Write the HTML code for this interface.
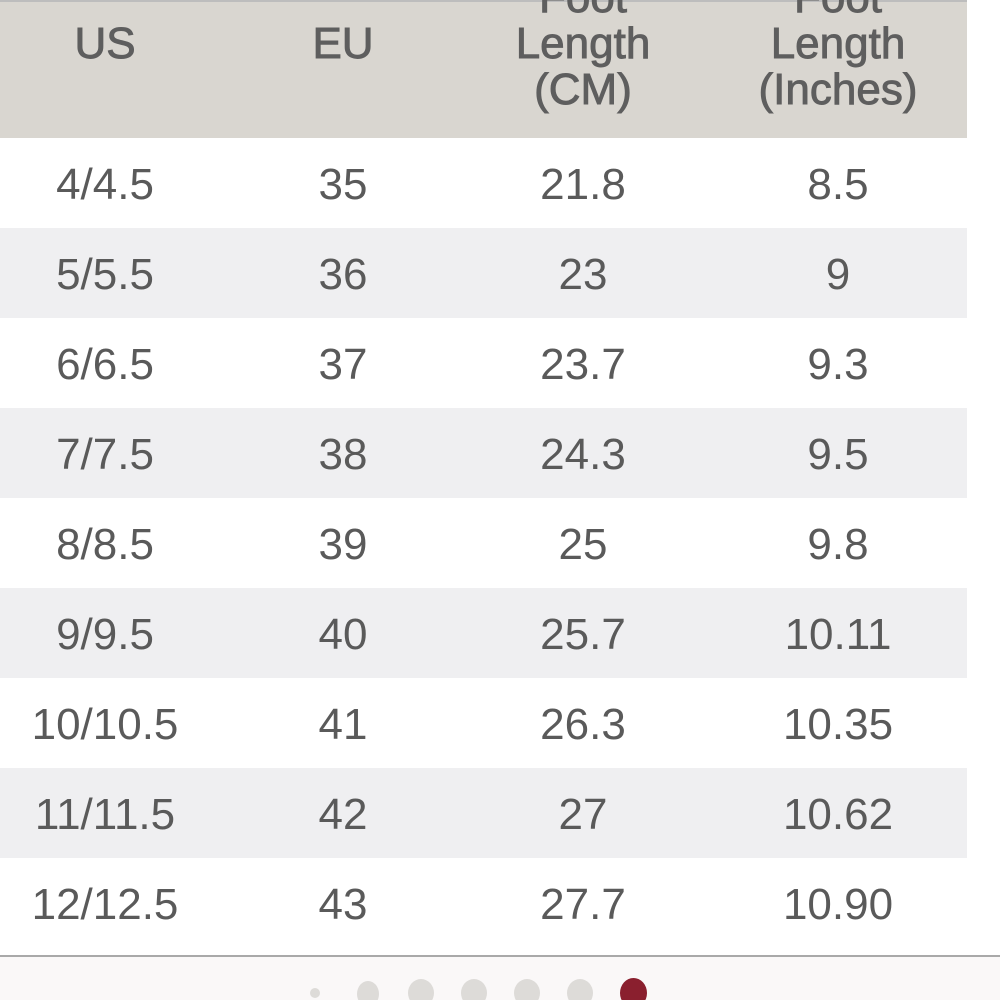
<!DOCTYPE html>
<html><head><style>
html,body{margin:0;width:1000px;height:1000px;overflow:hidden;background:#fff;font-family:"Liberation Sans",sans-serif;color:#5a5a5a;position:relative}
.hdr{position:absolute;left:0;top:0;width:967px;height:138px;background:#d9d6d0;border-top:2px solid #bdbdbd;box-sizing:border-box}
.t{position:absolute;transform:translateX(-50%);text-align:center;font-size:44px;line-height:46px;white-space:nowrap}
.h{color:#5e5e5e;-webkit-text-stroke:0.9px #5e5e5e;font-size:44px}
.row{position:absolute;left:0;width:967px;height:90px}
.g{background:#efeff1}
.foot{position:absolute;left:0;top:955px;width:1000px;height:45px;background:#faf8f8;border-top:2px solid #a9a9a9}
.dot{position:absolute;border-radius:50%;background:#dddbd8}
</style></head><body>
<div class="hdr"></div>
<div class="t h" style="left:105px;top:21px">US</div>
<div class="t h" style="left:343px;top:21px">EU</div>
<div class="t h" style="left:583px;top:-25px">Foot<br>Length<br>(CM)</div>
<div class="t h" style="left:838px;top:-25px">Foot<br>Length<br>(Inches)</div>
<div class="row g" style="top:228px"></div>
<div class="row g" style="top:408px"></div>
<div class="row g" style="top:588px"></div>
<div class="row g" style="top:768px"></div>
<div class="t" style="left:105px;top:162px">4/4.5</div><div class="t" style="left:343px;top:162px">35</div><div class="t" style="left:583px;top:162px">21.8</div><div class="t" style="left:838px;top:162px">8.5</div>
<div class="t" style="left:105px;top:252px">5/5.5</div><div class="t" style="left:343px;top:252px">36</div><div class="t" style="left:583px;top:252px">23</div><div class="t" style="left:838px;top:252px">9</div>
<div class="t" style="left:105px;top:342px">6/6.5</div><div class="t" style="left:343px;top:342px">37</div><div class="t" style="left:583px;top:342px">23.7</div><div class="t" style="left:838px;top:342px">9.3</div>
<div class="t" style="left:105px;top:432px">7/7.5</div><div class="t" style="left:343px;top:432px">38</div><div class="t" style="left:583px;top:432px">24.3</div><div class="t" style="left:838px;top:432px">9.5</div>
<div class="t" style="left:105px;top:522px">8/8.5</div><div class="t" style="left:343px;top:522px">39</div><div class="t" style="left:583px;top:522px">25</div><div class="t" style="left:838px;top:522px">9.8</div>
<div class="t" style="left:105px;top:612px">9/9.5</div><div class="t" style="left:343px;top:612px">40</div><div class="t" style="left:583px;top:612px">25.7</div><div class="t" style="left:838px;top:612px">10.11</div>
<div class="t" style="left:105px;top:702px">10/10.5</div><div class="t" style="left:343px;top:702px">41</div><div class="t" style="left:583px;top:702px">26.3</div><div class="t" style="left:838px;top:702px">10.35</div>
<div class="t" style="left:105px;top:792px">11/11.5</div><div class="t" style="left:343px;top:792px">42</div><div class="t" style="left:583px;top:792px">27</div><div class="t" style="left:838px;top:792px">10.62</div>
<div class="t" style="left:105px;top:882px">12/12.5</div><div class="t" style="left:343px;top:882px">43</div><div class="t" style="left:583px;top:882px">27.7</div><div class="t" style="left:838px;top:882px">10.90</div>
<div class="foot"></div>
<div class="dot" style="left:310px;top:988px;width:10px;height:10px"></div>
<div class="dot" style="left:357px;top:981px;width:22px;height:26px"></div>
<div class="dot" style="left:408px;top:979px;width:26px;height:28px"></div>
<div class="dot" style="left:461px;top:979px;width:26px;height:28px"></div>
<div class="dot" style="left:514px;top:979px;width:26px;height:28px"></div>
<div class="dot" style="left:567px;top:979px;width:26px;height:28px"></div>
<div class="dot" style="left:620px;top:978px;width:27px;height:30px;background:#8a1f2e"></div>
</body></html>
